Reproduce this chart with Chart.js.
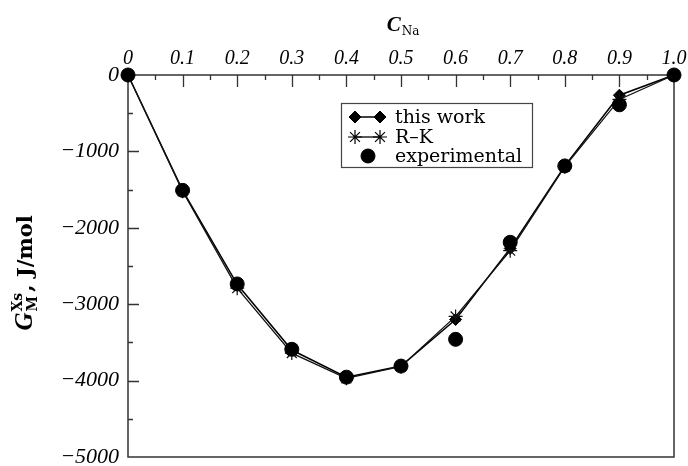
<!DOCTYPE html>
<html lang="en">
<head>
  <meta charset="UTF-8">
  <title>Excess Gibbs energy vs C_Na</title>
  <script src="https://cdn.jsdelivr.net/npm/chart.js"></script>
  <style>
    body { margin: 0; background: #fff; }
    #chart { display: block; }
  </style>
</head>
<body>
  <canvas id="chart" width="688" height="466"></canvas>
  <script>
    // concentration of Na (top axis)
    const cNa = [0, 0.1, 0.2, 0.3, 0.4, 0.5, 0.6, 0.7, 0.8, 0.9, 1.0];
    // G_M^Xs, J/mol
    const thisWork = [0, -1510, -2740, -3600, -3955, -3810, -3200, -2270, -1190, -265, 0];
    const rkValues = [0, -1520, -2790, -3640, -3970, -3815, -3160, -2300, -1200, -320, 0];
    const experimental = [0, -1510, -2735, -3590, -3955, -3810, -3460, -2190, -1190, -390, 0];
    const xTicks = [0, 0.1, 0.2, 0.3, 0.4, 0.5, 0.6, 0.7, 0.8, 0.9, 1.0];
    const yTicks = [0, -1000, -2000, -3000, -4000, -5000];

    const serif = '"DejaVu Serif", "Liberation Serif", serif';
    const italicSerif = '"Liberation Serif", serif';
    const pts = arr => arr.map((v, i) => ({ x: cNa[i], y: v }));

    // inward ticks + frame round the plot
    const framePlugin = {
      id: 'frame',
      beforeDatasetsDraw(chart) {
        const { ctx, chartArea: a, scales: { x, y } } = chart;
        ctx.save();
        ctx.strokeStyle = '#333';
        ctx.lineWidth = 1.3;
        ctx.beginPath();
        for (let i = 1; i < 20; i++) {
          const px = Math.round(x.getPixelForValue(i / 20)) + 0.5;
          ctx.moveTo(px, a.top);
          ctx.lineTo(px, a.top + (i % 2 === 0 ? 12 : 5));
        }
        for (let i = 1; i < 10; i++) {
          const py = Math.round(y.getPixelForValue(-500 * i)) + 0.5;
          ctx.moveTo(a.left, py);
          ctx.lineTo(a.left + (i % 2 === 0 ? 11 : 5), py);
        }
        ctx.stroke();
        ctx.lineWidth = 1.5;
        ctx.strokeRect(a.left, a.top, a.right - a.left, a.bottom - a.top);
        ctx.restore();
      }
    };

    // axis titles with sub/superscripts, and the boxed legend
    const textPlugin = {
      id: 'texts',
      afterDraw(chart) {
        const { ctx, chartArea: a } = chart;
        ctx.save();
        ctx.fillStyle = '#000';
        ctx.textBaseline = 'alphabetic';
        ctx.textAlign = 'left';

        // top title C_Na
        ctx.font = 'bold italic 21px ' + italicSerif;
        const wC = ctx.measureText('C').width;
        ctx.font = '12px ' + serif;
        const wNa = ctx.measureText('Na').width;
        let tx = (a.left + a.right) / 2 + 2 - (wC + wNa + 1) / 2;
        ctx.font = 'bold italic 21px ' + italicSerif;
        ctx.fillText('C', tx, 31);
        ctx.font = '12px ' + serif;
        ctx.fillText('Na', tx + wC + 1, 35);

        // y title G^Xs_M, J/mol (rotated)
        ctx.translate(32, 273);
        ctx.rotate(-Math.PI / 2);
        ctx.font = 'bold italic 25px ' + italicSerif;
        const wG = ctx.measureText('G').width;
        ctx.font = 'bold 14px ' + serif;
        const wS = Math.max(ctx.measureText('Xs').width, ctx.measureText('M').width);
        ctx.font = 'bold 21px ' + serif;
        const wRest = ctx.measureText(', J/mol').width;
        let sx = -(wG + wS + 2 + wRest) / 2;
        ctx.font = 'bold italic 25px ' + italicSerif;
        ctx.fillText('G', sx, 0);
        ctx.font = 'bold 14px ' + serif;
        ctx.fillText('Xs', sx + wG + 1, -10);
        ctx.fillText('M', sx + wG + 1, 5);
        ctx.font = 'bold 21px ' + serif;
        ctx.fillText(', J/mol', sx + wG + wS + 2, 0);
        ctx.setTransform(1, 0, 0, 1, 0, 0);

        // legend
        ctx.strokeStyle = '#444';
        ctx.lineWidth = 1.2;
        ctx.strokeRect(341.5, 103.5, 191, 64);
        const rows = [117, 137, 156];
        ctx.font = '19px ' + serif;
        ctx.textBaseline = 'middle';
        chart.data.datasets.forEach((ds, i) => {
          const yy = rows[i];
          if (ds.showLine !== false) {
            ctx.strokeStyle = '#000';
            ctx.lineWidth = ds.borderWidth;
            ctx.beginPath();
            ctx.moveTo(355, yy);
            ctx.lineTo(380, yy);
            ctx.stroke();
          }
          const opts = {
            pointStyle: ds.pointStyle, radius: ds.pointRadius,
            borderWidth: ds.pointBorderWidth || 1, rotation: 0
          };
          ctx.fillStyle = '#000';
          ctx.strokeStyle = '#000';
          ctx.lineWidth = opts.borderWidth;
          if (ds.showLine !== false) {
            Chart.helpers.drawPoint(ctx, opts, 355, yy);
            Chart.helpers.drawPoint(ctx, opts, 380, yy);
          } else {
            Chart.helpers.drawPoint(ctx, opts, 368, yy);
          }
          ctx.fillStyle = '#000';
          ctx.fillText(ds.label, 395, yy + 1);
        });
        ctx.restore();
      }
    };

    new Chart(document.getElementById('chart'), {
      type: 'scatter',
      data: {
        datasets: [{
          label: 'this work',
          data: pts(thisWork),
          showLine: true,
          clip: false,
          borderColor: '#000',
          backgroundColor: '#000',
          borderWidth: 1.5,
          pointStyle: 'rectRot',
          pointRadius: 6,
          pointBorderWidth: 1,
          order: 2
        }, {
          label: 'R\u2013K',
          data: pts(rkValues),
          showLine: true,
          clip: false,
          borderColor: '#111',
          backgroundColor: '#111',
          borderWidth: 1.3,
          pointStyle: 'star',
          pointRadius: 7,
          pointBorderWidth: 1.2,
          order: 1
        }, {
          label: 'experimental',
          data: pts(experimental),
          showLine: false,
          clip: false,
          borderColor: '#000',
          backgroundColor: '#000',
          pointStyle: 'circle',
          pointRadius: 7,
          pointBorderWidth: 1,
          order: 0
        }]
      },
      options: {
        responsive: false,
        animation: false,
        layout: { padding: { left: 0, top: 0, right: 14, bottom: 9 } },
        plugins: { legend: { display: false }, tooltip: { enabled: false } },
        scales: {
          x: {
            type: 'linear',
            position: 'top',
            min: 0, max: 1,
            afterBuildTicks: s => { s.ticks = xTicks.map(v => ({ value: v })); },
            afterFit: s => {
              s.height = 75;
              s.paddingLeft = 0; s.paddingRight = 0;
            },
            grid: { display: false, drawTicks: false },
            border: { display: false },
            ticks: {
              autoSkip: false,
              maxRotation: 0,
              padding: 4,
              color: '#000',
              font: { family: italicSerif, style: 'italic', size: 20 },
              callback: v => v === 0 ? '0' : v.toFixed(1)
            }
          },
          y: {
            min: -5000, max: 0,
            afterBuildTicks: s => { s.ticks = yTicks.map(v => ({ value: v })); },
            afterFit: s => {
              s.width = 128;
              s.paddingTop = 0; s.paddingBottom = 0;
            },
            grid: { display: false, drawTicks: false },
            border: { display: false },
            ticks: {
              autoSkip: false,
              padding: 9,
              color: '#000',
              font: { family: italicSerif, style: 'italic', size: 22 },
              callback: v => String(v).replace('-', '\u2212')
            }
          }
        }
      },
      plugins: [framePlugin, textPlugin]
    });
  </script>
</body>
</html>
